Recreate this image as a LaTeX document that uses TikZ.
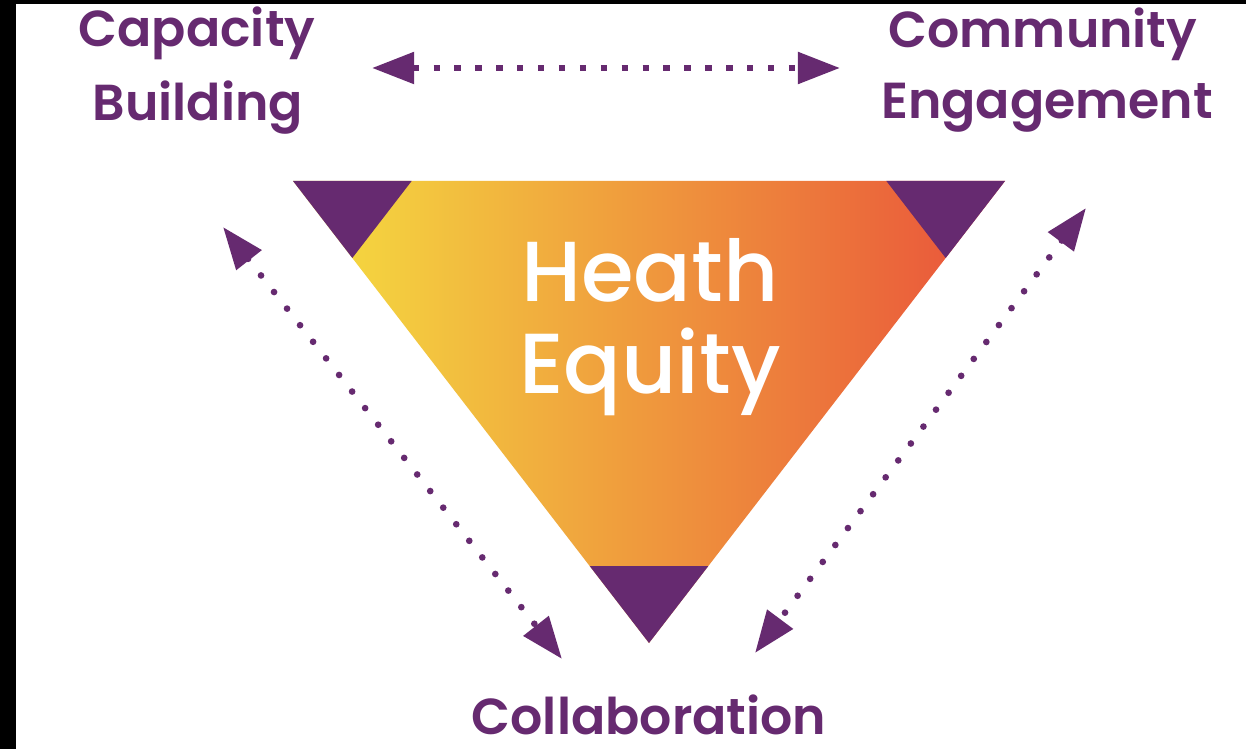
\documentclass[tikz,border=0pt]{standalone}
\usepackage{fontspec}
\setmainfont{Poppins}
\newfontfamily\labfont{Poppins SemiBold}
\newfontfamily\eqfont{Poppins Medium}
\usetikzlibrary{arrows.meta,calc}
\definecolor{pur}{HTML}{662A70}
\definecolor{yel}{HTML}{F5E040}
\definecolor{org}{HTML}{F2A243}
\definecolor{rd}{HTML}{E9503A}
\tikzset{
  lab/.style={text=pur,font=\labfont\fontsize{28.8}{34}\selectfont,anchor=base,inner sep=0pt},
  eq/.style={text=white,font=\eqfont\fontsize{48.5}{56}\selectfont,anchor=base,inner sep=0pt},
  corner/.style={fill=pur},
  hdots/.style={draw=pur,line width=3.6pt,dash pattern=on 3.6pt off 8.3pt,{Triangle[length=24pt,width=17.5pt]}-{Triangle[length=24pt,width=17.5pt]}},
  ddots/.style={draw=pur,line width=3.8pt,line cap=round,dash pattern=on 0pt off 12pt,{Triangle[length=24pt,width=17.5pt]}-{Triangle[length=24pt,width=17.5pt]}}
}
\begin{document}
\begin{tikzpicture}[x=0.02cm,y=-0.02cm]
\useasboundingbox (0,0) rectangle (1246,749);
\fill[white] (0,0) rectangle (1246,749);
\fill[black] (0,0) rectangle (16,749);
\fill[black] (0,0) rectangle (1246,4);
% main triangle
\coordinate (A) at (293,181);
\coordinate (B) at (1005,181);
\coordinate (C) at (649,643);
\shade[left color=yel,middle color=org,right color=rd] (A) -- (B) -- (C) -- cycle;
\fill[corner] (A) -- ($(A)!1/6!(B)$) -- ($(A)!1/6!(C)$) -- cycle;
\fill[corner] (B) -- ($(B)!1/6!(A)$) -- ($(B)!1/6!(C)$) -- cycle;
\fill[corner] (C) -- ($(C)!1/6!(A)$) -- ($(C)!1/6!(B)$) -- cycle;
% texts
\node[lab] (cap1) at (197,47) {Capacity};
\node[lab] (cap2) at (198,121) {Building};
\node[lab] (com1) at (1043,48) {Community};
\node[lab] (com2) at (1047,119) {Engagement};
\node[lab,text depth=0pt] (col) at (649,734) {Collaboration};
\node[eq] (he1) at (650,302) {Heath};
\node[eq] (he2) at (650,394) {Equity};
% arrows
\coordinate (t1) at (372,68);
\coordinate (t2) at (840,68);
\coordinate (l1) at (223,227);
\coordinate (l2) at (562,659);
\coordinate (r1) at (1086,208);
\coordinate (r2) at (755,653);
\draw[hdots] (t1) -- (t2);
\draw[ddots] (l1) -- (l2);
\draw[ddots] (r1) -- (r2);
\end{tikzpicture}
\end{document}
